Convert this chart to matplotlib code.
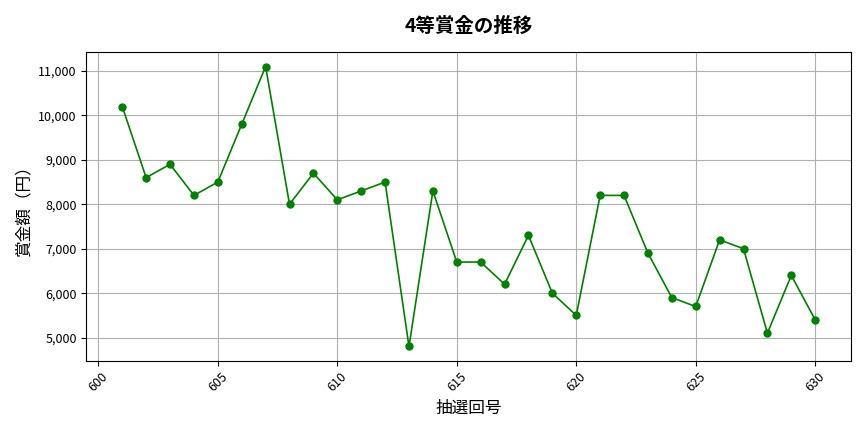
import matplotlib
matplotlib.use('Agg')
import matplotlib.pyplot as plt
from matplotlib.ticker import FuncFormatter

plt.rcParams['font.family'] = ['Noto Sans CJK JP', 'DejaVu Sans']

draws = list(range(601, 631))
prize = [10200, 8600, 8900, 8200, 8500, 9800, 11100, 8000, 8700, 8100,
         8300, 8500, 4800, 8300, 6700, 6700, 6200, 7300, 6000, 5500,
         8200, 8200, 6900, 5900, 5700, 7200, 7000, 5100, 6400, 5400]

fig, ax = plt.subplots(figsize=(8.64, 4.32), dpi=100)
ax.plot(draws, prize, color='green', marker='o', markersize=5, linewidth=1.2)
ax.set_title('4等賞金の推移', fontsize=14, fontweight='bold', pad=14)
ax.set_xlabel('抽選回号', fontsize=12)
ax.set_ylabel('賞金額（円）', fontsize=12)
ax.yaxis.set_major_formatter(FuncFormatter(lambda v, p: f'{int(v):,}'))
ax.set_xticks(range(600, 631, 5))
ax.tick_params(axis='x', rotation=45, labelsize=9)
ax.tick_params(axis='y', labelsize=9)
ax.grid(True, color='#b0b0b0', linewidth=0.8)
ax.set_xlim(599.5, 631.5)
ax.set_ylim(4480, 11430)
fig.subplots_adjust(left=0.1, right=0.985, top=0.88, bottom=0.165)
fig.savefig('out.png')
